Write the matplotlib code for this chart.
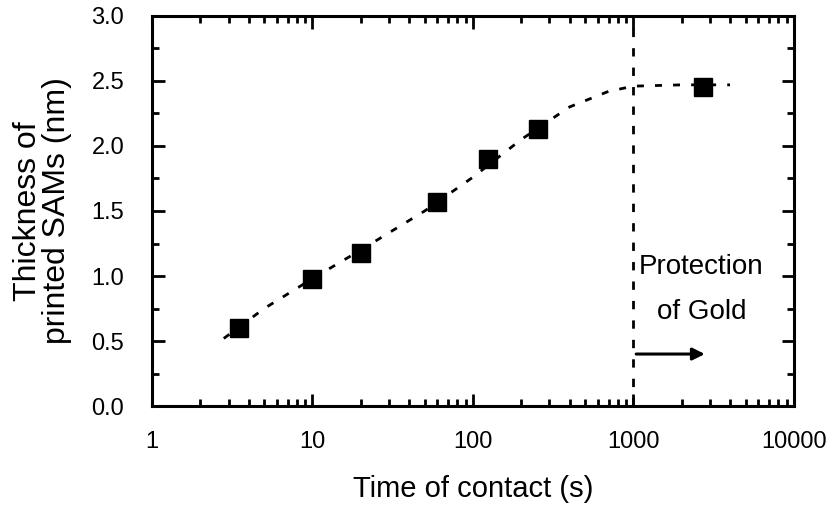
import numpy as np
import matplotlib
matplotlib.use('Agg')
import matplotlib.pyplot as plt
from matplotlib.ticker import LogLocator, MultipleLocator, FixedLocator

plt.rcParams['font.family'] = ['Liberation Sans Narrow', 'Liberation Sans', 'DejaVu Sans']

# measured points
time_s = [3.5, 10, 20, 60, 125, 255, 2700]
thick_nm = [0.60, 0.98, 1.18, 1.57, 1.90, 2.13, 2.45]

# dashed guide curve
guide_t = [2.8, 5, 10, 20, 50, 100, 200, 400, 700, 1000, 2000, 4000]
guide_y = [0.52, 0.75, 0.98, 1.20, 1.50, 1.76, 2.05, 2.30, 2.42, 2.46, 2.47, 2.47]

protect_t = 1000
arrow_t = [1000, 2900]
arrow_y = 0.40

fig = plt.figure(figsize=(8.33, 5.14), dpi=100)
ax = fig.add_axes([0.1825, 0.21, 0.7705, 0.759])

ax.plot(guide_t, guide_y, color='black', ls=(0, (2.5, 4)), lw=2)
ax.plot(time_s, thick_nm, ls='none', marker='s', ms=13, color='black')
ax.axvline(protect_t, color='black', ls=(0, (3, 4)), lw=2)
ax.annotate('', xy=(arrow_t[1], arrow_y), xytext=(arrow_t[0], arrow_y),
            arrowprops=dict(arrowstyle='-|>', color='black', lw=2.2, mutation_scale=18))
ax.text(2650, 1.07, 'Protection', ha='center', va='center', fontsize=20)
ax.text(2650, 0.72, 'of Gold', ha='center', va='center', fontsize=20)

ax.set_xscale('log')
ax.set_xlim(1, 10000)
ax.set_ylim(0, 3.0)
ax.xaxis.set_major_locator(FixedLocator([1, 10, 100, 1000, 10000]))
ax.set_xticklabels(['1', '10', '100', '1000', '10000'])
ax.xaxis.set_minor_locator(LogLocator(base=10, subs=np.arange(2, 10)))
ax.xaxis.set_minor_formatter(plt.NullFormatter())
ax.yaxis.set_major_locator(MultipleLocator(0.5))
ax.yaxis.set_minor_locator(MultipleLocator(0.25))
ax.set_yticklabels(['%.1f' % v for v in ax.get_yticks()])

ax.tick_params(which='both', direction='in', top=True, right=True, width=2, labelsize=17)
ax.tick_params(which='major', length=9)
ax.tick_params(which='minor', length=5)
ax.tick_params(axis='x', which='major', pad=18)
ax.tick_params(axis='y', which='major', pad=20)
for sp in ax.spines.values():
    sp.set_linewidth(2.2)

ax.set_xlabel('Time of contact (s)', fontsize=21, labelpad=16)
ax.set_ylabel('Thickness of\nprinted SAMs (nm)', fontsize=23, labelpad=14, linespacing=0.95)

fig.savefig('out.png', dpi=100)
